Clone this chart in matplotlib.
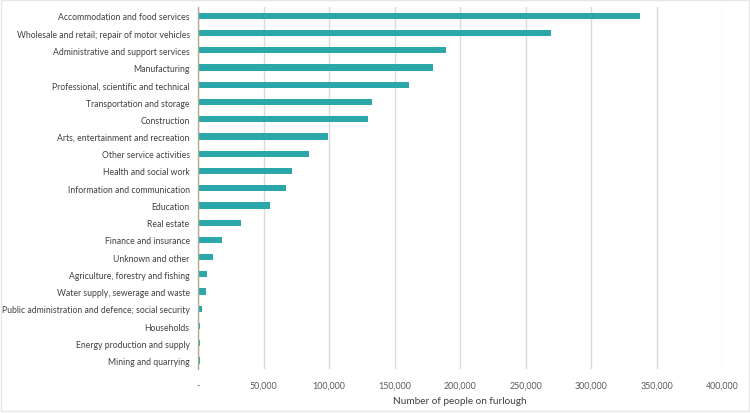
import matplotlib
matplotlib.use('Agg')
import matplotlib.pyplot as plt
from matplotlib.patches import Rectangle

# sectors, top to bottom
sectors = [
    'Accommodation and food services',
    'Wholesale and retail; repair of motor vehicles',
    'Administrative and support services',
    'Manufacturing',
    'Professional, scientific and technical',
    'Transportation and storage',
    'Construction',
    'Arts, entertainment and recreation',
    'Other service activities',
    'Health and social work',
    'Information and communication',
    'Education',
    'Real estate',
    'Finance and insurance',
    'Unknown and other',
    'Agriculture, forestry and fishing',
    'Water supply, sewerage and waste',
    'Public administration and defence; social security',
    'Households',
    'Energy production and supply',
    'Mining and quarrying',
]
furlough = [337000, 269000, 189000, 179000, 161000, 133000, 130000, 99000,
            85000, 72000, 67000, 55000, 33000, 18000, 11500, 7000, 5800,
            2800, 1400, 1400, 1500]
xticks = [0, 50000, 100000, 150000, 200000, 250000, 300000, 350000, 400000]
xticklabels = ['-', '50,000', '100,000', '150,000', '200,000', '250,000',
               '300,000', '350,000', '400,000']

plt.rcParams['font.family'] = ['Lato', 'DejaVu Sans']
txt = '#404040'

fig = plt.figure(figsize=(7.5, 4.14), dpi=100)
ax = fig.add_axes([0.264, 0.106, 0.699, 0.874])

ypos = list(range(len(sectors)))
ax.barh(ypos, furlough, height=0.36, color='#2ba6a9', zorder=3)
ax.set_ylim(len(sectors) - 0.5, -0.5)
ax.set_xlim(0, 400000)
ax.set_yticks(ypos)
ax.set_yticklabels(sectors, fontsize=6.2, color=txt)
ax.set_xticks(xticks)
ax.set_xticklabels(xticklabels, fontsize=6.4, color='#595959')
ax.tick_params(length=0, pad=6)
ax.tick_params(axis='x', pad=8)
ax.grid(axis='x', color='#d9d9d9', linewidth=1, zorder=0)
for s in ['top', 'right', 'bottom']:
    ax.spines[s].set_visible(False)
ax.spines['left'].set_color('#b3ab8c')
ax.spines['left'].set_linewidth(1)
ax.spines['left'].set_zorder(4)
ax.set_xlabel('Number of people on furlough', fontsize=7.2, color=txt, labelpad=5)

fig.patches.append(Rectangle((0.001, 0.004), 0.998, 0.994, transform=fig.transFigure,
                             fill=False, edgecolor='#e6e6e6', linewidth=1))

fig.savefig('out.png', dpi=100)
